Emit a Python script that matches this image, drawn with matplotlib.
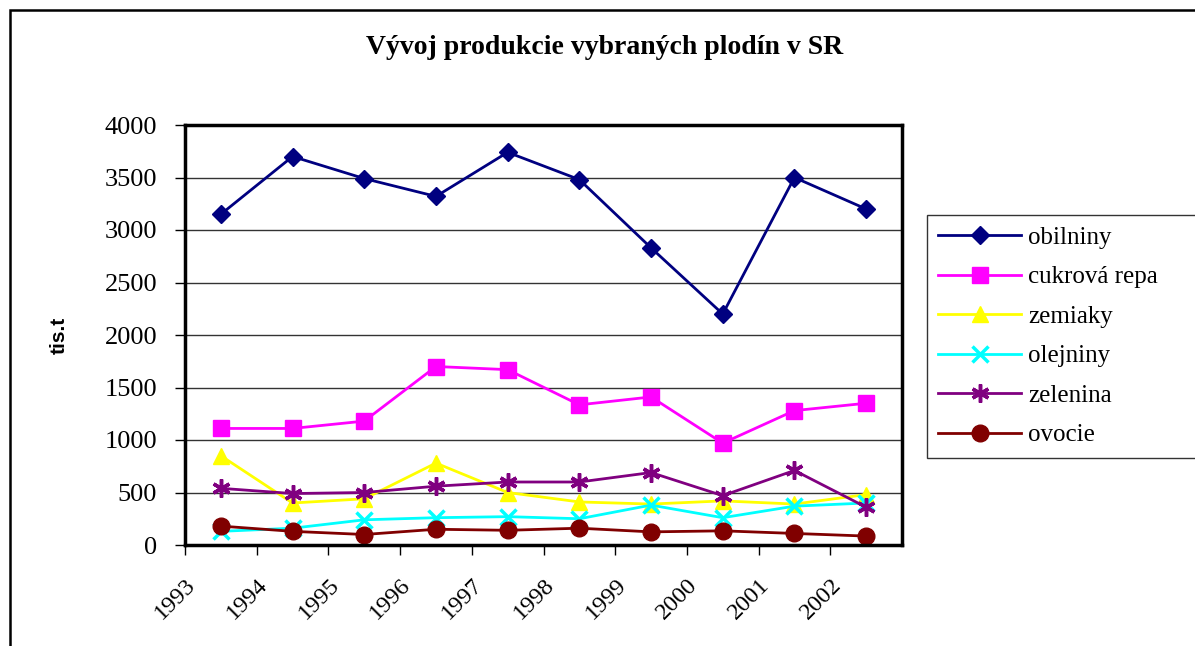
import numpy as np
import matplotlib
matplotlib.use("Agg")
import matplotlib.pyplot as plt
import matplotlib.transforms as mtransforms
from matplotlib.patches import Rectangle

years = ["1993", "1994", "1995", "1996", "1997", "1998", "1999", "2000", "2001", "2002"]

obilniny = [3150, 3700, 3490, 3320, 3740, 3480, 2830, 2200, 3500, 3200]
cukrova_repa = [1110, 1110, 1180, 1700, 1670, 1335, 1410, 970, 1280, 1350]
zemiaky = [850, 400, 440, 780, 500, 410, 390, 420, 390, 480]
olejniny = [130, 160, 240, 260, 270, 250, 380, 260, 370, 400]
zelenina = [540, 490, 500, 560, 600, 600, 690, 470, 710, 360]
ovocie = [180, 130, 100, 150, 140, 160, 125, 135, 110, 85]

plt.rcParams["font.family"] = ["Liberation Serif", "DejaVu Serif"]

fig = plt.figure(figsize=(11.95, 6.46), dpi=100)

# outer chart frame (Excel-like), runs off the right and bottom edge
fig.patches.append(Rectangle((10 / 1195, -0.2), 1.5, (646 - 10) / 646 + 0.2,
                             transform=fig.transFigure, fill=False,
                             edgecolor="black", linewidth=1.8))

ax = fig.add_axes([185 / 1195, 101 / 646, 717 / 1195, 420 / 646])

x = np.arange(len(years)) + 0.5

ax.plot(x, obilniny, color="#000080", lw=2, marker="D", ms=9, label="obilniny")
ax.plot(x, cukrova_repa, color="#FF00FF", lw=2, marker="s", ms=11, label="cukrová repa")
ax.plot(x, zemiaky, color="#FFFF00", lw=2, marker="^", ms=12, label="zemiaky")
ax.plot(x, olejniny, color="#00FFFF", lw=2, marker="x", ms=11, mew=2.5, label="olejniny")
ax.plot(x, zelenina, color="#800080", lw=2, marker=(6, 2, 0), ms=13, mew=2.5, label="zelenina")
ax.plot(x, ovocie, color="#800000", lw=2, marker="o", ms=12, label="ovocie")

ax.set_xlim(0, len(years))
ax.set_ylim(0, 4000)
ax.set_yticks(np.arange(0, 4001, 500))
ax.yaxis.grid(True, color="#333333", lw=1)
ax.set_axisbelow(True)

ax.tick_params(axis="x", direction="out", length=7, width=1, pad=14)
ax.tick_params(axis="y", direction="out", length=7, width=1, pad=13, labelsize=19)

ax.set_xticks(np.arange(len(years)))
ax.set_xticklabels(years, rotation=45, ha="right", va="top", fontsize=17.5)
# shift the rotated year labels a bit to the right, like the original
offset = mtransforms.ScaledTranslation(0.15, 0, fig.dpi_scale_trans)
for lbl in ax.get_xticklabels():
    lbl.set_transform(lbl.get_transform() + offset)

for s in ax.spines.values():
    s.set_linewidth(2.5)

ax.set_ylabel("tis.t", fontsize=15, fontweight="bold", labelpad=26,
              family=["Liberation Sans", "DejaVu Sans"])

fig.text(605 / 1195, 1 - 47 / 646, "Vývoj produkcie vybraných plodín v SR",
         ha="center", va="center", fontsize=20, fontweight="bold")

leg = ax.legend(loc="upper left", mode="expand",
                bbox_to_anchor=(927 / 1195, 0, 0.3, 1 - 215 / 646),
                bbox_transform=fig.transFigure, borderaxespad=0,
                frameon=True, fancybox=False,
                edgecolor="black", fontsize=18, handlelength=3.3,
                labelspacing=0.68, borderpad=0.45, handletextpad=0.3)
leg.get_frame().set_linewidth(1)

fig.savefig("out.png", dpi=100)
